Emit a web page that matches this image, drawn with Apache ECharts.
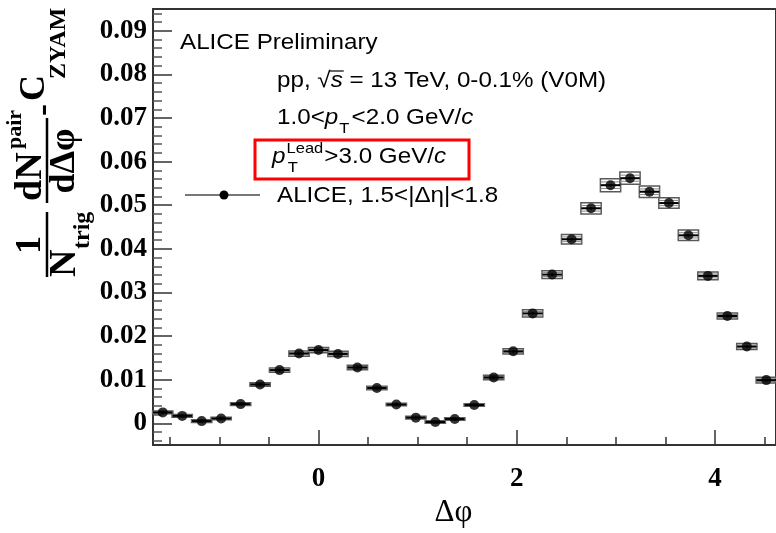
<!DOCTYPE html>
<html>
<head>
<meta charset="utf-8">
<script src="https://cdn.jsdelivr.net/npm/echarts@6/dist/echarts.min.js"></script>
<style>
  html, body { margin: 0; padding: 0; background: #ffffff; }
  #chart { width: 776px; height: 533px; }
</style>
</head>
<body>
<div id="chart"></div>
<script>
// Δφ bin centres (bins of width π/16)
const binCenters = [
  -1.5708, -1.3744, -1.1781, -0.9817, -0.7854, -0.5890, -0.3927, -0.1963,
   0.0000,  0.1963,  0.3927,  0.5890,  0.7854,  0.9817,  1.1781,  1.3744,
   1.5708,  1.7671,  1.9635,  2.1598,  2.3562,  2.5525,  2.7489,  2.9452,
   3.1416,  3.3379,  3.5343,  3.7306,  3.9270,  4.1233,  4.3197,  4.5160
];
const binHalfWidth = 0.0982;

// per-trigger associated yield minus ZYAM, 1.5<|Δη|<1.8
const yieldValues = [
  0.0025, 0.0017, 0.0005, 0.0011, 0.0044, 0.0089, 0.0122, 0.0160,
  0.0168, 0.0159, 0.0128, 0.0081, 0.0043, 0.0013, 0.0003, 0.0010,
  0.0042, 0.0105, 0.0165, 0.0252, 0.0341, 0.0422, 0.0493, 0.0546,
  0.0562, 0.0531, 0.0505, 0.0431, 0.0338, 0.0246, 0.0176, 0.0099
];
// statistical uncertainties
const statErrors = [
  0.0003, 0.0003, 0.0003, 0.0003, 0.0003, 0.0003, 0.0003, 0.0003,
  0.0003, 0.0003, 0.0003, 0.0003, 0.0003, 0.0003, 0.0003, 0.0003,
  0.0003, 0.0003, 0.0003, 0.0003, 0.0003, 0.0003, 0.0003, 0.0003,
  0.0003, 0.0003, 0.0003, 0.0003, 0.0003, 0.0003, 0.0003, 0.0003
];
// systematic uncertainties (half height of the boxes)
const sysErrors = [
  0.0003, 0.0003, 0.0003, 0.0003, 0.0003, 0.0004, 0.0005, 0.0006,
  0.0006, 0.0006, 0.0005, 0.0004, 0.0003, 0.0003, 0.0003, 0.0003,
  0.0003, 0.0005, 0.0006, 0.00084, 0.0009, 0.0011, 0.0013, 0.0015,
  0.0014, 0.0013, 0.0012, 0.0012, 0.0009, 0.0007, 0.0007, 0.00065
];

// axis tick values
const xMajorTicks = [0, 2, 4];
const xMinorTicks = [-1.5, -1, -0.5, 0.5, 1, 1.5, 2.5, 3, 3.5, 4.5];
const yMajorTicks = [0, 0.01, 0.02, 0.03, 0.04, 0.05, 0.06, 0.07, 0.08, 0.09];
const yMinorTicks = [-0.004, -0.002, 0.002, 0.004, 0.006, 0.008, 0.012, 0.014, 0.016, 0.018,
  0.022, 0.024, 0.026, 0.028, 0.032, 0.034, 0.036, 0.038, 0.042, 0.044, 0.046, 0.048,
  0.052, 0.054, 0.056, 0.058, 0.062, 0.064, 0.066, 0.068, 0.072, 0.074, 0.076, 0.078,
  0.082, 0.084, 0.086, 0.088, 0.092, 0.094];

const X_MIN = -1.669, X_MAX = 4.614;
const Y_MIN = -0.005, Y_MAX = 0.095;

const points = binCenters.map((x, i) => [x, yieldValues[i], statErrors[i], sysErrors[i]]);

const serif = '"Liberation Serif", "DejaVu Serif", serif';
const sans = '"Liberation Sans", Arial, Helvetica, sans-serif';
const axisColor = '#333';
const textScaleX = 1.1;   // annotation text is set slightly wide

// text measuring, used to place the overline of √s and the stacked subscript
const measureCtx = document.createElement('canvas').getContext('2d');
function textWidth(str, font) { measureCtx.font = font; return measureCtx.measureText(str).width; }
const fontN = '22px ' + sans;
const fontI = 'italic 22px ' + sans;
const fontScript = '15px ' + sans;

const ppX = 277, ppY = 81;
const sqrtStart = ppX + textScaleX * textWidth('pp, √', fontN);
const sqrtEnd = sqrtStart + textScaleX * textWidth('s', fontI);
const leadX = 272, leadY = 157;
const subTX = leadX + textScaleX * (textWidth('p', fontI) + 2);

const chart = echarts.init(document.getElementById('chart'), null, { renderer: 'canvas' });

const baseX = { type: 'value', min: X_MIN, max: X_MAX, splitLine: { show: false } };
const baseY = { type: 'value', min: Y_MIN, max: Y_MAX, splitLine: { show: false } };

function sansLine(x, y, text, extraRich) {
  return {
    type: 'text', x: x, y: y, scaleX: textScaleX,
    style: {
      text: text, x: 0, y: 0, align: 'left', verticalAlign: 'middle',
      font: fontN, fill: '#000',
      rich: Object.assign({
        n: { font: fontN, fill: '#000' },
        i: { font: fontI, fill: '#000' }
      }, extraRich || {})
    }
  };
}

const option = {
  animation: false,
  backgroundColor: '#ffffff',
  grid: { left: 153, top: 9, width: 628, height: 458, containLabel: false },
  xAxis: [
    Object.assign({}, baseX, {
      position: 'bottom',
      axisLine: { show: true, onZero: false, lineStyle: { color: axisColor, width: 2 } },
      axisTick: { show: true, inside: true, length: 15, customValues: xMajorTicks, lineStyle: { color: axisColor, width: 1.5 } },
      axisLabel: { show: true, customValues: xMajorTicks, margin: 20, color: '#000',
        fontFamily: serif, fontWeight: 'bold', fontSize: 27 },
      name: 'Δφ', nameLocation: 'middle', nameGap: 51,
      nameTextStyle: { fontFamily: serif, fontSize: 31, color: '#000', padding: [0, 22, 0, 0] }
    }),
    Object.assign({}, baseX, {
      position: 'bottom',
      axisLine: { show: false, onZero: false },
      axisTick: { show: true, inside: true, length: 8, customValues: xMinorTicks, lineStyle: { color: axisColor, width: 1.5 } },
      axisLabel: { show: false }
    }),
    Object.assign({}, baseX, {
      position: 'top',
      axisLine: { show: true, onZero: false, lineStyle: { color: axisColor, width: 2 } },
      axisTick: { show: false }, axisLabel: { show: false }
    })
  ],
  yAxis: [
    Object.assign({}, baseY, {
      position: 'left',
      axisLine: { show: true, onZero: false, lineStyle: { color: axisColor, width: 2 } },
      axisTick: { show: true, inside: true, length: 19, customValues: yMajorTicks, lineStyle: { color: axisColor, width: 1.5 } },
      axisLabel: { show: true, customValues: yMajorTicks, margin: 6, color: '#000',
        fontFamily: serif, fontWeight: 'bold', fontSize: 27,
        formatter: v => (v === 0 ? '0' : v.toFixed(2)) }
    }),
    Object.assign({}, baseY, {
      position: 'left',
      axisLine: { show: false, onZero: false },
      axisTick: { show: true, inside: true, length: 9, customValues: yMinorTicks, lineStyle: { color: '#555', width: 1.5 } },
      axisLabel: { show: false }
    }),
    Object.assign({}, baseY, {
      position: 'right',
      axisLine: { show: true, onZero: false, lineStyle: { color: axisColor, width: 2 } },
      axisTick: { show: false }, axisLabel: { show: false }
    })
  ],
  series: [
    {
      // systematic uncertainty boxes
      type: 'custom',
      xAxisIndex: 0, yAxisIndex: 0,
      data: points,
      z: 2,
      renderItem: function (params, api) {
        const x = api.value(0), y = api.value(1), s = api.value(3);
        const hw = binHalfWidth * 1.04;
        const tl = api.coord([x - hw, y + s]);
        const br = api.coord([x + hw, y - s]);
        const innerTop = api.coord([x, y + s * 0.5])[1];
        const innerBot = api.coord([x, y - s * 0.5])[1];
        return {
          type: 'group',
          children: [
            { type: 'rect', shape: { x: tl[0], y: tl[1], width: br[0] - tl[0], height: br[1] - tl[1] },
              style: { stroke: '#5a5a5a', fill: null, lineWidth: 1.5 } },
            { type: 'line', shape: { x1: tl[0], y1: innerTop, x2: br[0], y2: innerTop }, style: { stroke: '#8a8a8a', lineWidth: 1 } },
            { type: 'line', shape: { x1: tl[0], y1: innerBot, x2: br[0], y2: innerBot }, style: { stroke: '#8a8a8a', lineWidth: 1 } }
          ]
        };
      }
    },
    {
      // bin-width and statistical error bars
      type: 'custom',
      xAxisIndex: 0, yAxisIndex: 0,
      data: points,
      z: 3,
      renderItem: function (params, api) {
        const x = api.value(0), y = api.value(1), e = api.value(2);
        const left = api.coord([x - binHalfWidth, y]);
        const right = api.coord([x + binHalfWidth, y]);
        const top = api.coord([x, y + e]);
        const bot = api.coord([x, y - e]);
        const st = { stroke: '#000', lineWidth: 2 };
        return {
          type: 'group',
          children: [
            { type: 'line', shape: { x1: left[0], y1: left[1], x2: right[0], y2: right[1] }, style: st },
            { type: 'line', shape: { x1: top[0], y1: top[1], x2: bot[0], y2: bot[1] }, style: st }
          ]
        };
      }
    },
    {
      type: 'scatter',
      xAxisIndex: 0, yAxisIndex: 0,
      data: points.map(p => [p[0], p[1]]),
      symbol: 'circle', symbolSize: 10,
      itemStyle: { color: '#000' },
      z: 4
    }
  ],
  graphic: [
    // y-axis title, drawn bottom-to-top
    {
      type: 'group', x: 47, y: 277, rotation: Math.PI / 2,
      children: [
        { type: 'text', style: { text: '1', x: 32, y: -16, align: 'center', verticalAlign: 'middle', font: 'bold 36px ' + serif, fill: '#000' } },
        { type: 'line', shape: { x1: 0, y1: 0, x2: 65, y2: 0 }, style: { stroke: '#000', lineWidth: 2.5 } },
        { type: 'text', style: { text: 'N', x: 0, y: 18, align: 'left', verticalAlign: 'middle', font: 'bold 38px ' + serif, fill: '#000' } },
        { type: 'text', style: { text: 'trig', x: 28, y: 36, align: 'left', verticalAlign: 'middle', font: 'bold 24px ' + serif, fill: '#000' } },
        { type: 'line', shape: { x1: 74, y1: 0, x2: 159, y2: 0 }, style: { stroke: '#000', lineWidth: 2.5 } },
        { type: 'text', style: { text: 'dN', x: 76, y: -16, align: 'left', verticalAlign: 'middle', font: 'bold 38px ' + serif, fill: '#000' } },
        { type: 'text', style: { text: 'pair', x: 128, y: -32, align: 'left', verticalAlign: 'middle', font: 'bold 22px ' + serif, fill: '#000' } },
        { type: 'text', style: { text: 'dΔφ', x: 116, y: 18, align: 'center', verticalAlign: 'middle', font: 'bold 36px ' + serif, fill: '#000' } },
        { type: 'text', style: { text: '-', x: 167, y: -3, align: 'center', verticalAlign: 'middle', font: 'bold 36px ' + serif, fill: '#000' } },
        { type: 'text', style: { text: 'C', x: 176, y: -12, align: 'left', verticalAlign: 'middle', font: 'bold 36px ' + serif, fill: '#000' } },
        { type: 'text', style: { text: 'ZYAM', x: 198, y: 12, align: 'left', verticalAlign: 'middle', font: 'bold 24px ' + serif, fill: '#000' } }
      ]
    },
    sansLine(180, 43, '{n|ALICE Preliminary}'),
    sansLine(ppX, ppY, '{n|pp, √}{i|s}{n| = 13 TeV, 0-0.1% (V0M)}'),
    {
      type: 'line', shape: { x1: sqrtStart - 1, y1: ppY - 10, x2: sqrtEnd + 1, y2: ppY - 10 }, style: { stroke: '#000', lineWidth: 1.2 }
    },
    sansLine(277, 118, '{n|1.0<}{i|p}{sub|T}{n|<2.0 GeV/}{i|c}', {
      sub: { font: fontScript, fill: '#000', padding: [22, 2, 0, 1] }
    }),
    sansLine(leadX, leadY, '{i|p}{sup|Lead}{n|>3.0 GeV/}{i|c}', {
      sup: { font: fontScript, fill: '#000', padding: [0, 1, 17, 1] }
    }),
    {
      type: 'text', x: subTX, y: leadY + 11, scaleX: textScaleX,
      style: { text: 'T', x: 0, y: 0, align: 'left', verticalAlign: 'middle', font: fontScript, fill: '#000' }
    },
    {
      type: 'rect', shape: { x: 255, y: 140, width: 214, height: 39 },
      style: { stroke: '#ff0000', fill: null, lineWidth: 3 }
    },
    {
      type: 'line', shape: { x1: 185, y1: 195, x2: 260, y2: 195 }, style: { stroke: '#777', lineWidth: 2 }
    },
    {
      type: 'circle', shape: { cx: 224, cy: 195, r: 4.5 }, style: { fill: '#000' }
    },
    sansLine(277, 196, '{n|ALICE, 1.5<|Δη|<1.8}')
  ]
};

chart.setOption(option);
</script>
</body>
</html>
